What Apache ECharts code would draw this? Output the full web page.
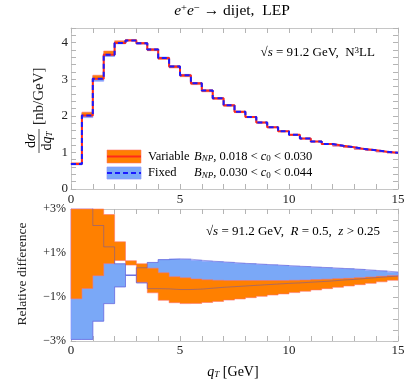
<!DOCTYPE html>
<html>
<head>
<meta charset="utf-8">
<script src="https://cdn.jsdelivr.net/npm/echarts@6/dist/echarts.min.js"></script>
<style>
  html, body { margin: 0; padding: 0; background: #fff; }
  #chart { width: 411px; height: 381px; }
</style>
</head>
<body>
<div id="chart"></div>
<script>
// bin edges in q_T [GeV]
const binEdges = [0, 0.5, 1, 1.5, 2, 2.5, 3, 3.5, 4, 4.5, 5, 5.5, 6, 6.5, 7, 7.5, 8, 8.5, 9, 9.5,
  10, 10.5, 11, 11.5, 12, 12.5, 13, 13.5, 14, 14.5, 15]

// d sigma / d q_T [nb/GeV], one value per bin
const dsigma = [0.68, 2.01, 3.01, 3.67, 3.99, 4.06, 3.98, 3.81, 3.58, 3.35,
  3.11, 2.89, 2.69, 2.48, 2.29, 2.11, 1.97, 1.82, 1.69, 1.58,
  1.48, 1.38, 1.30, 1.23, 1.18, 1.14, 1.09, 1.06, 1.02, 0.99]

// relative difference [%], variable B_NP band (orange)
const variableLo = [-1.08, -0.61, -0.03, 0.52, 0.66, 0.45, -0.33, -0.81, -1.15, -1.26,
  -1.30, -1.29, -1.25, -1.20, -1.14, -1.09, -1.03, -0.97, -0.91, -0.86,
  -0.80, -0.74, -0.68, -0.62, -0.56, -0.50, -0.44, -0.38, -0.31, -0.24]
const variableHi = [5.0, 4.5, 3.3, 2.75, 1.51, 0.65, 0.51, 0.31, 0.10, -0.08,
  -0.13, -0.18, -0.22, -0.24, -0.25, -0.25, -0.25, -0.25, -0.25, -0.25,
  -0.24, -0.23, -0.21, -0.19, -0.17, -0.15, -0.12, -0.09, -0.06, -0.03]

// relative difference [%], fixed B_NP band (blue)
const fixedLo = [-2.93, -2.93, -2.10, -1.30, -0.54, -0.02, -0.36, -0.62, -0.63, -0.66,
  -0.66, -0.64, -0.60, -0.56, -0.53, -0.50, -0.47, -0.44, -0.41, -0.38,
  -0.36, -0.33, -0.30, -0.27, -0.23, -0.20, -0.16, -0.12, -0.08, -0.05]
const fixedHi = [3.2, 3.2, 2.25, 1.28, 0.51, 0.00, 0.33, 0.57, 0.70, 0.73,
  0.72, 0.67, 0.63, 0.60, 0.57, 0.53, 0.51, 0.48, 0.46, 0.43,
  0.40, 0.38, 0.35, 0.33, 0.30, 0.28, 0.25, 0.21, 0.18, 0.13]

const relTickLabels = { '3': '+3%', '1': '+1%', '-1': '\u22121%', '-3': '\u22123%' }

const SERIF = "'Liberation Serif', 'DejaVu Serif', serif"
const INK = '#222'
const FRAME = '#c6c6c6'
const TICK = '#b4b4b4'
const ORANGE = '#ff8000'
const ORANGE_EDGE = 'rgba(255,110,110,0.55)'
const BLUE = '#7aa8f7'
const BLUE_EDGE = 'rgba(140,150,255,0.7)'

// histogram points for step:'end'
function steps(vals) {
  const pts = vals.map((v, i) => [binEdges[i], v])
  pts.push([binEdges[vals.length], vals[vals.length - 1]])
  return pts
}

// filled band between lo and hi per bin, drawn through the axes with api.coord
function band(lo, hi, xi, yi, fill, edge) {
  return {
    type: 'custom', xAxisIndex: xi, yAxisIndex: yi, silent: true,
    data: [[0, 0]],
    renderItem(params, api) {
      const cs = params.coordSys
      const clampY = y => Math.min(Math.max(y, cs.y), cs.y + cs.height)
      const upper = []
      const lower = []
      for (let i = 0; i < lo.length; i++) {
        const x0 = api.coord([binEdges[i], 0])[0]
        const x1 = api.coord([binEdges[i + 1], 0])[0]
        const yh = clampY(api.coord([0, hi[i]])[1])
        const yl = clampY(api.coord([0, lo[i]])[1])
        upper.push([x0, yh], [x1, yh])
        lower.push([x0, yl], [x1, yl])
      }
      return {
        type: 'polygon',
        shape: { points: upper.concat(lower.slice().reverse()) },
        style: { fill: fill, stroke: edge, lineWidth: 1 }
      }
    }
  }
}

function xAx(grid, pos, labels) {
  return {
    type: 'value', gridIndex: grid, position: pos, min: 0, max: 15, interval: 1,
    axisLine: { onZero: false, lineStyle: { color: FRAME } },
    axisTick: { inside: true, length: 5, lineStyle: { color: TICK } },
    splitLine: { show: false },
    axisLabel: {
      show: labels, margin: grid === 0 ? 4 : 3, color: INK, fontFamily: SERIF, fontSize: 13,
      showMinLabel: true, showMaxLabel: true,
      formatter: v => (v % 5 === 0 ? String(v) : '')
    }
  }
}

function yAx(grid, pos, labels, min, max, interval, fmt, fontSize, margin) {
  return {
    type: 'value', gridIndex: grid, position: pos, min: min, max: max, interval: interval,
    axisLine: { show: true, onZero: false, lineStyle: { color: FRAME } },
    axisTick: { show: true, inside: true, length: 5, lineStyle: { color: TICK } },
    splitLine: { show: false },
    axisLabel: {
      show: labels, margin: margin, color: INK, fontFamily: SERIF, fontSize: fontSize,
      showMinLabel: true, showMaxLabel: true, formatter: fmt
    }
  }
}

const topFmt = v => (Math.abs(v - Math.round(v)) < 1e-6 ? String(Math.round(v)) : '')
const relFmt = v => {
  const k = String(Math.round(v))
  return Math.abs(v - Math.round(v)) < 1e-6 && relTickLabels[k] ? relTickLabels[k] : ''
}

// top panel bands in nb/GeV from the relative spreads
const topFixedLo = dsigma.map((c, i) => c * (1 + fixedLo[i] / 100))
const topFixedHi = dsigma.map((c, i) => c * (1 + fixedHi[i] / 100))
const topVarLo = dsigma.map((c, i) => c * (1 + variableLo[i] / 100))
const topVarHi = dsigma.map((c, i) => c * (1 + variableHi[i] / 100))

function richSet(size) {
  const small = Math.round(size * 0.72)
  return {
    n: { fontFamily: SERIF, fontSize: size, color: INK },
    i: { fontFamily: SERIF, fontSize: size, fontStyle: 'italic', color: INK },
    sub: { fontFamily: SERIF, fontSize: small, fontStyle: 'italic', color: INK, verticalAlign: 'bottom', padding: [5, 0, 0, 0] },
    subn: { fontFamily: SERIF, fontSize: small, color: INK, verticalAlign: 'bottom', padding: [5, 0, 0, 0] },
    sup: { fontFamily: SERIF, fontSize: small, color: INK, verticalAlign: 'top', padding: [0, 0, 5, 0] }
  }
}
const legendRich = richSet(12.5)
const noteRich = richSet(13)

const chart = echarts.init(document.getElementById('chart'))

chart.setOption({
  animation: false,
  backgroundColor: '#ffffff',
  grid: [
    { left: 71, right: 13, top: 28, height: 161 },
    { left: 71, right: 13, top: 209, height: 132 }
  ],
  xAxis: [
    xAx(0, 'bottom', true),
    xAx(0, 'top', false),
    xAx(1, 'bottom', true),
    xAx(1, 'top', false)
  ],
  yAxis: [
    yAx(0, 'left', true, 0, 4.4, 0.2, topFmt, 13, 3),
    yAx(0, 'right', false, 0, 4.4, 0.2, topFmt, 13, 3),
    yAx(1, 'left', true, -3, 3, 0.5, relFmt, 12, 5),
    yAx(1, 'right', false, -3, 3, 0.5, relFmt, 12, 5)
  ],
  series: [
    band(topFixedLo, topFixedHi, 0, 0, BLUE, BLUE_EDGE),
    band(topVarLo, topVarHi, 0, 0, ORANGE, ORANGE_EDGE),
    {
      name: 'Variable', type: 'line', xAxisIndex: 0, yAxisIndex: 0, step: 'end', symbol: 'none',
      lineStyle: { color: '#ff2a1a', width: 2 }, data: steps(dsigma)
    },
    {
      name: 'Fixed', type: 'line', xAxisIndex: 0, yAxisIndex: 0, step: 'end', symbol: 'none',
      lineStyle: { color: '#1a1aff', width: 2, type: [5, 3] }, data: steps(dsigma)
    },
    band(fixedLo, fixedHi, 2, 2, BLUE, BLUE_EDGE),
    band(variableLo, variableHi, 2, 2, ORANGE, ORANGE_EDGE),
    {
      name: 'fixedHiEdge', type: 'line', xAxisIndex: 2, yAxisIndex: 2, step: 'end', symbol: 'none',
      lineStyle: { color: 'rgba(80,80,200,0.45)', width: 1 }, data: steps(fixedHi)
    },
    {
      name: 'fixedLoEdge', type: 'line', xAxisIndex: 2, yAxisIndex: 2, step: 'end', symbol: 'none',
      lineStyle: { color: 'rgba(80,80,200,0.45)', width: 1 }, data: steps(fixedLo)
    }
  ],
  graphic: [
    // title
    {
      type: 'text', x: 232, y: 11,
      style: {
        text: '{i|e}{sup|+}{i|e}{sup|\u2212}{n| \u2192 dijet,  LEP}',
        align: 'center', verticalAlign: 'middle',
        rich: {
          n: { fontFamily: SERIF, fontSize: 15.5, color: INK },
          i: { fontFamily: SERIF, fontSize: 15.5, fontStyle: 'italic', color: INK },
          sup: { fontFamily: SERIF, fontSize: 10.5, color: INK, verticalAlign: 'top', padding: [0, 0, 6, 0] }
        }
      }
    },
    // top y label (fraction, rotated)
    {
      type: 'group', x: 39, y: 141, rotation: Math.PI / 2,
      children: [
        {
          type: 'text', x: 0, y: -1,
          style: {
            text: '{n|d}{i|\u03c3}', align: 'center', verticalAlign: 'bottom',
            rich: {
              n: { fontFamily: SERIF, fontSize: 14, color: INK },
              i: { fontFamily: SERIF, fontSize: 14, fontStyle: 'italic', color: INK }
            }
          }
        },
        {
          type: 'line', shape: { x1: -12, y1: 0, x2: 12, y2: 0 },
          style: { stroke: INK, lineWidth: 0.8 }
        },
        {
          type: 'text', x: 0, y: 1,
          style: {
            text: '{n|d}{i|q}{sub|T}', align: 'center', verticalAlign: 'top',
            rich: {
              n: { fontFamily: SERIF, fontSize: 14, color: INK },
              i: { fontFamily: SERIF, fontSize: 14, fontStyle: 'italic', color: INK },
              sub: { fontFamily: SERIF, fontSize: 9, fontStyle: 'italic', color: INK, verticalAlign: 'bottom' }
            }
          }
        },
        {
          type: 'text', x: 16, y: 0,
          style: {
            text: '[nb/GeV]', align: 'left', verticalAlign: 'middle',
            fontFamily: SERIF, fontSize: 15, fill: INK
          }
        }
      ]
    },
    // bottom y label
    {
      type: 'text', x: 22, y: 274, rotation: Math.PI / 2,
      style: {
        text: 'Relative difference', align: 'center', verticalAlign: 'middle',
        fontFamily: SERIF, fontSize: 13.5, fill: INK
      }
    },
    // x label
    {
      type: 'text', x: 233, y: 372,
      style: {
        text: '{i|q}{sub|T}{n| [GeV]}', align: 'center', verticalAlign: 'middle',
        rich: {
          n: { fontFamily: SERIF, fontSize: 14, color: INK },
          i: { fontFamily: SERIF, fontSize: 14, fontStyle: 'italic', color: INK },
          sub: { fontFamily: SERIF, fontSize: 9, fontStyle: 'italic', color: INK, verticalAlign: 'bottom' }
        }
      }
    },
    // annotations
    {
      type: 'text', x: 375, y: 53,
      style: {
        text: '{n|\u221a}{i|s}{n| = 91.2 GeV,  N}{sup|3}{n|LL}',
        align: 'right', verticalAlign: 'middle', rich: noteRich
      }
    },
    {
      type: 'text', x: 380, y: 232,
      style: {
        text: '{n|\u221a}{i|s}{n| = 91.2 GeV,  }{i|R}{n| = 0.5,  }{i|z}{n| > 0.25}',
        align: 'right', verticalAlign: 'middle', rich: noteRich
      }
    },
    // legend
    {
      type: 'rect', shape: { x: 107, y: 150, width: 34, height: 13 },
      style: { fill: ORANGE, stroke: ORANGE_EDGE, lineWidth: 1 }
    },
    {
      type: 'line', shape: { x1: 107, y1: 156.5, x2: 141, y2: 156.5 },
      style: { stroke: '#ff2a1a', lineWidth: 2 }
    },
    {
      type: 'rect', shape: { x: 107, y: 167, width: 34, height: 12 },
      style: { fill: BLUE, stroke: BLUE_EDGE, lineWidth: 1 }
    },
    {
      type: 'line', shape: { x1: 107, y1: 173, x2: 141, y2: 173 },
      style: { stroke: '#1a1aff', lineWidth: 2, lineDash: [5, 3] }
    },
    {
      type: 'text', x: 148, y: 156.5,
      style: { text: '{n|Variable}', verticalAlign: 'middle', rich: legendRich }
    },
    {
      type: 'text', x: 194, y: 156.5,
      style: {
        text: '{i|B}{sub|NP}{n|, 0.018 < }{i|c}{subn|0}{n| < 0.030}',
        verticalAlign: 'middle', rich: legendRich
      }
    },
    {
      type: 'text', x: 148, y: 173,
      style: { text: '{n|Fixed}', verticalAlign: 'middle', rich: legendRich }
    },
    {
      type: 'text', x: 194, y: 173,
      style: {
        text: '{i|B}{sub|NP}{n|, 0.030 < }{i|c}{subn|0}{n| < 0.044}',
        verticalAlign: 'middle', rich: legendRich
      }
    }
  ]
})
</script>
</body>
</html>
